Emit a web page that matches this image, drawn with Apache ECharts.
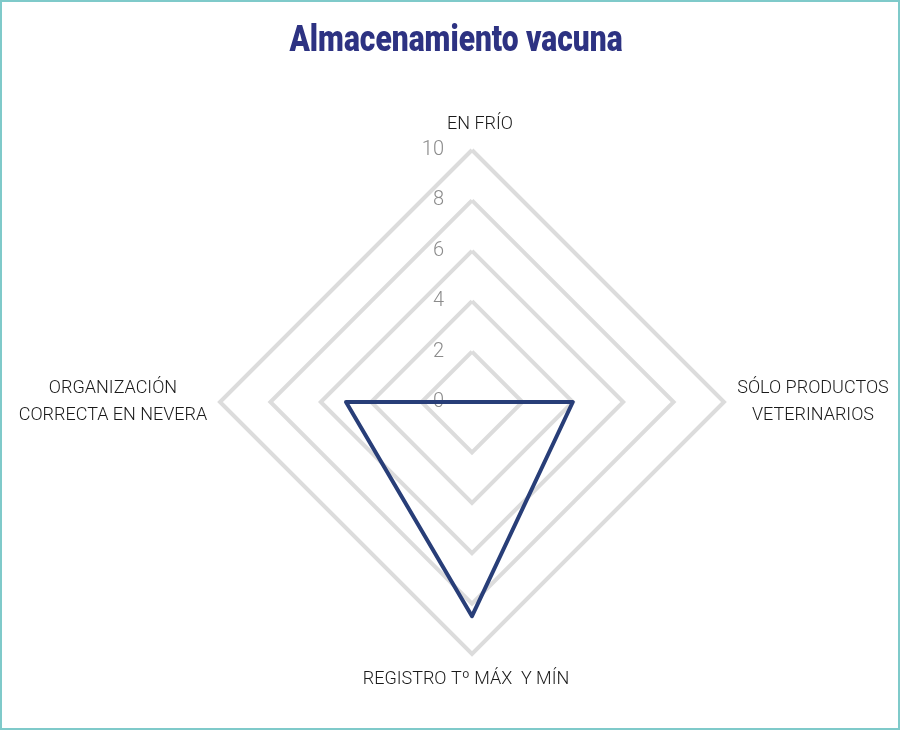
<!DOCTYPE html>
<html>
<head>
<meta charset="utf-8">
<script src="https://cdn.jsdelivr.net/npm/echarts@6/dist/echarts.min.js"></script>
<style>
html,body{margin:0;padding:0;background:#fff;}
#chart{width:900px;height:730px;box-sizing:border-box;border:2px solid #7FCACA;background:#fff;}
</style>
</head>
<body>
<div id="chart"></div>
<script>
const titleText = 'Almacenamiento vacuna';
const indicatorNames = ['EN FRÍO', 'ORGANIZACIÓN\nCORRECTA EN NEVERA', 'REGISTRO Tº MÁX  Y MÍN', 'SÓLO PRODUCTOS\nVETERINARIOS'];
const values = [0, 5, 8.5, 4];
const axisMax = 10;

const nameStyleKeys = ['t', 'l', 'b', 'r'];
const baseName = {fontFamily: 'Roboto, sans-serif', fontWeight: 300, fontSize: 18, color: '#1a1a1a', lineHeight: 27, align: 'center'};

const chart = echarts.init(document.getElementById('chart'), null, {renderer: 'canvas'});
chart.setOption({
  backgroundColor: '#fff',
  animation: false,
  graphic: [{
    type: 'text',
    x: 454,
    y: 40,
    scaleX: 0.81,
    style: {
      text: titleText,
      font: "900 37px Roboto, sans-serif",
      fill: '#2D3282',
      textAlign: 'center',
      textVerticalAlign: 'middle'
    }
  }],
  radar: {
    center: [470, 400],
    radius: 252,
    startAngle: 90,
    splitNumber: 5,
    shape: 'polygon',
    indicator: indicatorNames.map((n, i) => ({
      name: n, min: 0, max: axisMax,
      axisLabel: {show: i === 0}
    })),
    axisName: {
      color: '#1a1a1a',
      fontFamily: 'Roboto, sans-serif',
      fontSize: 18,
      lineHeight: 27,
      formatter: function (name) {
        const k = nameStyleKeys[indicatorNames.indexOf(name)];
        return name.split('\n').map(s => '{' + k + '|' + s + '}').join('\n');
      },
      rich: {
        t: Object.assign({}, baseName, {padding: [0, 0, 0, 16]}),
        l: Object.assign({}, baseName, {width: 190}),
        b: Object.assign({}, baseName, {padding: [0, 12, 0, 0]}),
        r: Object.assign({}, baseName, {width: 154, padding: [0, 0, 0, 0]})
      }
    },
    nameGap: 12,
    axisLine: {show: false},
    axisTick: {show: false},
    axisLabel: {
      show: true,
      color: '#8c8c8c',
      fontFamily: 'Roboto, sans-serif',
      fontWeight: 300,
      fontSize: 20,
      margin: 28
    },
    splitLine: {lineStyle: {color: '#dcdcdc', width: 4}},
    splitArea: {show: false}
  },
  series: [{
    type: 'radar',
    symbol: 'none',
    lineStyle: {color: '#283E78', width: 4},
    data: [{value: values}]
  }]
});
</script>
</body>
</html>
